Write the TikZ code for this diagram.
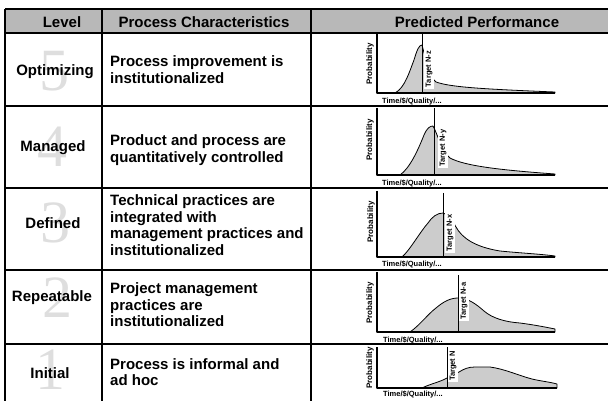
\documentclass[tikz,border=0pt]{standalone}
\usepackage{fontspec}
\setmainfont{Liberation Sans}
\newfontfamily\digitfont{Liberation Serif}
\begin{document}
\begin{tikzpicture}[x=1pt,y=-1pt,line join=round]
\useasboundingbox (0,0) rectangle (611,401);
\tikzset{
 rule/.style={line width=1.2pt},
 lvl/.style={font=\fontsize{15}{17}\selectfont\bfseries, inner sep=0pt},
 proc/.style={font=\fontsize{15}{16.5}\selectfont\bfseries, align=left, anchor=west, inner sep=0pt},
 hdr/.style={font=\fontsize{15}{17}\selectfont\bfseries, inner sep=0pt},
 digit/.style={font=\digitfont\fontsize{60}{60}\selectfont, text=black!13, inner sep=0pt},
 axis/.style={line width=1.3pt},
 tline/.style={line width=0.9pt},
 curve/.style={line width=0.8pt, fill=black!20},
 prob/.style={font=\fontsize{8}{8}\selectfont\bfseries, rotate=90, inner sep=0pt},
 tql/.style={font=\fontsize{7.5}{8}\selectfont\bfseries, anchor=west, inner sep=0pt},
 tgt/.style={font=\fontsize{7.5}{8}\selectfont\bfseries, rotate=90, fill=white, inner sep=1.5pt},
}
% header
\fill[black!28] (5,9) rectangle (608,33);
\node[hdr] (hL) at (62,22) {Level};
\node[hdr] (hP) at (204,22) {Process Characteristics};
\node[hdr] (hR) at (477,22) {Predicted Performance};
% big digits
\node[digit] (d5) at (54,71) {5};
\node[digit] (d4) at (52,147) {4};
\node[digit] (d3) at (56,223) {3};
\node[digit] (d2) at (57,298) {2};
\node[digit] (d1) at (50,370) {1};
% level names
\node[lvl] (l5) at (55,72) {Optimizing};
\node[lvl] (l4) at (53,148) {Managed};
\node[lvl] (l3) at (53,223) {Defined};
\node[lvl] (l2) at (52,298) {Repeatable};
\node[lvl] (l1) at (50,373) {Initial};
% characteristics
\node[proc] (p5) at (110,69.5) {Process improvement is\\institutionalized};
\node[proc] (p4) at (110,150) {Product and process are\\quantitatively controlled};
\node[proc] (p3) at (110,225) {Technical practices are\\integrated with\\management practices and\\institutionalized};
\node[proc] (p2) at (110,305) {Project management\\practices are\\institutionalized};
\node[proc] (p1) at (110,372) {Process is informal and\\ad hoc};
% ---------- chart 5
\draw[curve] (395,93) .. controls (405,88) and (410,70) .. (414,60) .. controls (417,50) and (419,45) .. (422,45)
  .. controls (426,60) and (430,78) .. (436,82) .. controls (450,87) and (480,89) .. (555,92) -- (555,93) -- cycle;
\node[tgt] (t5) at (429,69) {Target N-z};
\draw[tline] (422,33) -- (422,93);
\draw[axis] (377,33) -- (377,93) -- (555,93);
\node[prob] (y5) at (370,64) {Probability};
\node[tql] (x5) at (382,101) {Time/\$/Quality/...};
% ---------- chart 4
\draw[curve] (400,175) .. controls (410,168) and (418,150) .. (424,135) .. controls (427,128) and (430,126) .. (433,126)
  .. controls (438,135) and (442,152) .. (450,158) .. controls (465,166) and (500,170) .. (555,174) -- (555,175) -- cycle;
\node[tgt] (t4) at (443,148) {Target N-y};
\draw[tline] (434,108) -- (434,175);
\draw[axis] (377,108) -- (377,175) -- (555,175);
\node[prob] (y4) at (370,140) {Probability};
\node[tql] (x4) at (382,183) {Time/\$/Quality/...};
% ---------- chart 3
\draw[curve] (402,257) .. controls (410,250) and (420,232) .. (428,223) .. controls (432,217) and (437,213) .. (443,213)
  .. controls (448,214) and (452,220) .. (456,227) .. controls (462,238) and (475,247) .. (500,251)
  .. controls (520,253) and (540,254) .. (555,256) -- (555,257) -- cycle;
\node[tgt] (t3) at (450,233) {Target N-x};
\draw[tline] (443,193) -- (443,257);
\draw[axis] (377,191) -- (377,257) -- (555,257);
\node[prob] (y3) at (371,222) {Probability};
\node[tql] (x3) at (382,264) {Time/\$/Quality/...};
% ---------- chart 2
\draw[curve] (410,332) .. controls (420,325) and (428,314) .. (436,308) .. controls (443,302) and (450,298) .. (458,298)
  .. controls (468,298) and (476,304) .. (484,311) .. controls (492,318) and (505,322) .. (520,323)
  .. controls (535,325) and (545,327) .. (555,329) -- (555,332) -- cycle;
\node[tgt] (t2) at (464,301) {Target N-a};
\draw[tline] (458,275) -- (458,332);
\draw[axis] (377,272) -- (377,332) -- (555,332);
\node[prob] (y2) at (370,303) {Probability};
\node[tql] (x2) at (383,340) {Time/\$/Quality/...};
% ---------- chart 1
\draw[curve] (422,388) .. controls (430,384) and (440,382) .. (447,378) -- (459,372)
  .. controls (464,369) and (468,367) .. (475,367) -- (490,367) .. controls (505,369) and (520,376) .. (532,379)
  .. controls (540,381) and (550,382) .. (557,384) -- (557,388) -- cycle;
\node[tgt] (t1) at (453,366) {Target N};
\draw[tline] (447,347) -- (447,388);
\draw[axis] (377,347) -- (377,388) -- (557,388);
\node[prob] (y1) at (370,368) {Probability};
\node[tql] (x1) at (383,394) {Time/\$/Quality/...};
% table rules
\draw[rule] (5,9) -- (608,9);
\draw[rule] (5,33) -- (608,33);
\draw[rule] (5,106) -- (608,106);
\draw[rule] (5,188) -- (608,188);
\draw[rule] (5,270) -- (608,270);
\draw[rule] (5,344) -- (608,344);
\draw[rule] (5,9) -- (5,401);
\draw[rule] (102,9) -- (102,401);
\draw[rule] (311,9) -- (311,401);
\end{tikzpicture}
\end{document}
